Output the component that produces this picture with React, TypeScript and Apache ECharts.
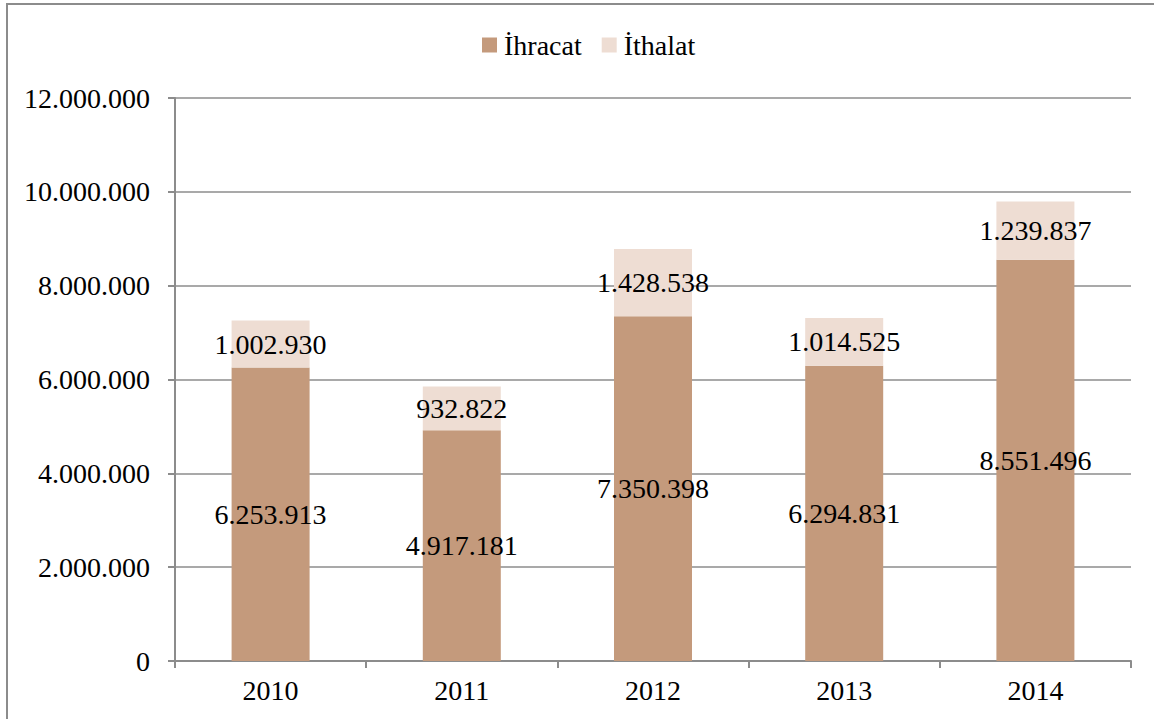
import React, { useEffect, useRef } from "react";
import * as echarts from "echarts";

const years = ["2010", "2011", "2012", "2013", "2014"];
const ihracat = [6253913, 4917181, 7350398, 6294831, 8551496];
const ithalat = [1002930, 932822, 1428538, 1014525, 1239837];
const seriesNames = ["İhracat", "İthalat"];

const fmt = (v: number) => String(Math.round(v)).replace(/\B(?=(\d{3})+(?!\d))/g, ".");
const FONT = "'Times New Roman', 'Liberation Serif', Times, serif";

export default function App() {
  const ref = useRef<HTMLDivElement>(null);
  useEffect(() => {
    if (!ref.current) return;
    const chart = echarts.init(ref.current, null, { renderer: "svg" });
    const labelStyle = {
      show: true,
      position: "inside" as const,
      color: "#000",
      fontFamily: FONT,
      fontSize: 28,
      formatter: (p: any) => fmt(p.value),
    };
    chart.setOption({
      animation: false,
      backgroundColor: "#fff",
      textStyle: { fontFamily: FONT },
      graphic: [
        {
          type: "rect",
          shape: { x: 7, y: 4, width: 1200, height: 800 },
          style: { fill: "none", stroke: "#8c8c8c", lineWidth: 2 },
          silent: true,
        },
      ],
      legend: {
        top: 26,
        left: 477,
        itemWidth: 15,
        itemHeight: 15,
        itemGap: 20,
        icon: "rect",
        textStyle: { fontFamily: FONT, fontSize: 28, color: "#000", padding: [0, 0, 0, 2] },
        data: seriesNames,
      },
      grid: { left: 175, right: 23, top: 98, bottom: 58 },
      xAxis: {
        type: "category",
        data: years,
        axisLine: { lineStyle: { color: "#8c8c8c", width: 2 } },
        axisTick: { show: true, length: 7, alignWithLabel: false, lineStyle: { color: "#8c8c8c", width: 2 } },
        axisLabel: { color: "#000", fontFamily: FONT, fontSize: 28, margin: 15 },
      },
      yAxis: {
        type: "value",
        min: 0,
        max: 12000000,
        interval: 2000000,
        axisLine: { show: true, lineStyle: { color: "#8c8c8c", width: 2 } },
        axisTick: { show: true, length: 7, lineStyle: { color: "#8c8c8c", width: 2 } },
        splitLine: { lineStyle: { color: "#8c8c8c", width: 1.5 } },
        axisLabel: { color: "#000", fontFamily: FONT, fontSize: 28, margin: 25, formatter: (v: number) => fmt(v) },
      },
      series: [
        {
          name: seriesNames[0],
          type: "bar",
          stack: "total",
          barWidth: 78,
          data: ihracat,
          itemStyle: { color: "#C49A7C" },
          label: labelStyle,
        },
        {
          name: seriesNames[1],
          type: "bar",
          stack: "total",
          barWidth: 78,
          data: ithalat,
          itemStyle: { color: "#EEDDD3" },
          label: labelStyle,
        },
      ],
    });
    return () => chart.dispose();
  }, []);
  return (
    <div
      ref={ref}
      style={{ position: "fixed", left: 0, top: 0, width: 1154, height: 719, background: "#fff" }}
    />
  );
}
